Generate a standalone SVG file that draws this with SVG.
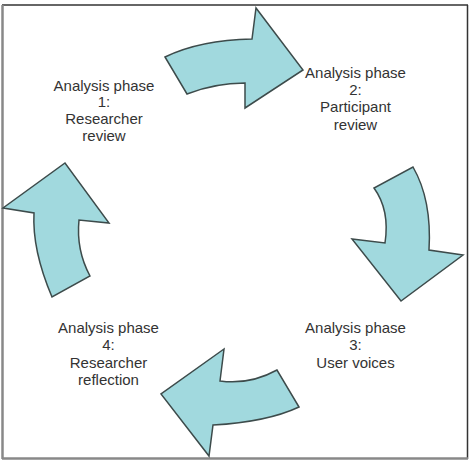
<svg xmlns="http://www.w3.org/2000/svg" width="471" height="462" viewBox="0 0 471 462">
<style>
.arrow{fill:#a1d9de;stroke:#3d4b4b;stroke-width:1.5;stroke-linejoin:miter}
.lbl{font-family:"Liberation Sans",Arial,sans-serif;font-size:15px;fill:#333;text-anchor:middle}
</style>
<rect x="0" y="0" width="471" height="462" fill="#fff"/>
<g id="frame">
<line x1="2" y1="5" x2="468" y2="5" stroke="#333" stroke-width="1.5"/>
<line x1="467.5" y1="5" x2="467.5" y2="459" stroke="#333" stroke-width="1.5"/>
<line x1="2" y1="458.5" x2="468" y2="458.5" stroke="#888" stroke-width="2.5"/>
<line x1="2.5" y1="5" x2="2.5" y2="459" stroke="#888" stroke-width="2.5"/>
</g>
<g id="connectors">
<path id="arrow-1-2" class="arrow" d="M165,57 Q200,40 252,39 L256,8 L303,70 L245,108 L245,83 Q215,83 187,94 Z"/>
<path id="arrow-2-3" class="arrow" d="M413,167 Q432,200 429,250 L463,255 L401,301 L352,239 L385,243 Q390,210 374,188 Z"/>
<path id="arrow-3-4" class="arrow" d="M277,370 Q250,385 220,381 L224,349 L161,394 L209,456 L213,425 Q267,422 299,407 Z"/>
<path id="arrow-4-1" class="arrow" d="M52,297 Q32,250 34,213 L3,208 L65,163 L109,223 L79,220 Q76,250 90,276 Z"/>
</g>
<g id="phase1">
<text class="lbl" x="104" y="91">Analysis phase</text>
<text class="lbl" x="104" y="107">1:</text>
<text class="lbl" x="104" y="124">Researcher</text>
<text class="lbl" x="104" y="141">review</text>
</g>
<g id="phase2">
<text class="lbl" x="355.5" y="78">Analysis phase</text>
<text class="lbl" x="355.5" y="95">2:</text>
<text class="lbl" x="355.5" y="112">Participant</text>
<text class="lbl" x="355.5" y="130">review</text>
</g>
<g id="phase3">
<text class="lbl" x="355.5" y="333">Analysis phase</text>
<text class="lbl" x="355.5" y="350">3:</text>
<text class="lbl" x="355.5" y="368">User voices</text>
</g>
<g id="phase4">
<text class="lbl" x="108.5" y="333">Analysis phase</text>
<text class="lbl" x="108.5" y="350">4:</text>
<text class="lbl" x="108.5" y="368">Researcher</text>
<text class="lbl" x="108.5" y="385">reflection</text>
</g>
</svg>
